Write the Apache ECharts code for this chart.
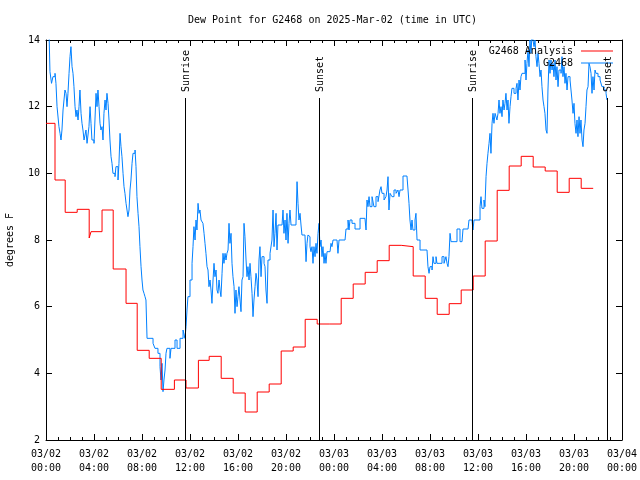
<!DOCTYPE html>
<html>
<head>
<meta charset="utf-8">
<script src="https://cdn.jsdelivr.net/npm/echarts@6/dist/echarts.min.js"></script>
<style>html,body{margin:0;padding:0;background:#fff}#c{width:640px;height:480px}</style>
</head>
<body>
<div id="c"></div>
<script>
// X tick labels (every 4 hours from 03/02 00:00 UTC)
const tickLabels = ['03/02\n00:00','03/02\n04:00','03/02\n08:00','03/02\n12:00','03/02\n16:00','03/02\n20:00',
  '03/03\n00:00','03/03\n04:00','03/03\n08:00','03/03\n12:00','03/03\n16:00','03/03\n20:00','03/04\n00:00'];

// G2468 Analysis (hours since 03/02 00:00 UTC, degrees F)
const analysisHours = [0,0.75,1.6,2.6,3.6,3.75,4.67,5.6,6.67,7.6,8.6,9.6,10.7,11.67,12.7,13.6,14.6,15.6,16.6,17.6,18.6,19.6,20.6,21.6,22.6,23.6,24.6,25.6,26.6,27.6,28.6,29.6,30.6,31.6,32.6,33.6,34.6,35.6,36.6,37.6,38.6,39.6,40.6,41.6,42.6,43.6,44.6,45.6];
const analysisValues = [11.5,9.8,8.83,8.92,8.06,8.25,8.9,7.13,6.1,4.69,4.45,3.52,3.8,3.56,4.39,4.51,3.85,3.41,2.84,3.44,3.68,4.67,4.79,5.62,5.48,5.48,6.25,6.68,7.03,7.38,7.84,7.8,6.92,6.25,5.77,6.09,6.5,6.92,7.97,9.49,10.22,10.51,10.19,10.07,9.43,9.85,9.55,9.55];

// G2468 observations
const obsHours = [0.25,0.33,0.46,0.58,0.75,0.83,0.92,1.08,1.17,1.25,1.33,1.42,1.58,1.67,1.75,1.83,1.92,2.0,2.08,2.17,2.25,2.33,2.42,2.5,2.58,2.67,2.75,2.83,2.92,3.0,3.08,3.17,3.33,3.42,3.58,3.67,3.75,3.83,4.0,4.08,4.17,4.25,4.33,4.42,4.5,4.58,4.67,4.75,4.83,4.92,5.0,5.08,5.17,5.25,5.33,5.42,5.5,5.58,5.75,5.83,6.0,6.08,6.17,6.25,6.33,6.42,6.5,6.58,6.67,6.75,6.83,6.92,7.0,7.08,7.17,7.25,7.42,7.5,7.58,7.67,7.75,7.83,7.92,8.0,8.08,8.17,8.25,8.33,8.42,8.67,8.92,9.08,9.33,9.5,9.58,9.67,9.75,9.83,9.92,10.0,10.08,10.33,10.42,10.75,10.92,11.17,11.42,11.58,11.67,11.75,11.83,12.0,12.17,12.25,12.33,12.42,12.5,12.58,12.67,12.75,12.83,12.92,13.0,13.08,13.17,13.25,13.33,13.42,13.5,13.58,13.67,13.75,13.83,13.92,14.0,14.08,14.17,14.25,14.33,14.42,14.5,14.58,14.67,14.75,14.83,14.92,15.0,15.08,15.17,15.25,15.33,15.42,15.5,15.58,15.67,15.75,15.83,15.92,16.0,16.08,16.17,16.25,16.33,16.42,16.5,16.58,16.67,16.75,16.83,16.92,17.0,17.08,17.17,17.25,17.33,17.42,17.5,17.58,17.67,17.75,17.83,17.92,18.0,18.17,18.25,18.33,18.42,18.5,18.67,18.83,18.92,19.0,19.08,19.17,19.25,19.33,19.67,19.75,19.83,19.92,20.0,20.08,20.17,20.25,20.33,20.42,20.83,20.92,21.0,21.08,21.17,21.25,21.33,21.58,21.67,21.75,21.83,21.92,22.0,22.08,22.17,22.25,22.33,22.42,22.5,22.58,22.67,22.75,22.83,22.92,23.0,23.08,23.17,23.25,23.33,23.42,23.67,23.75,23.83,23.92,24.25,24.33,24.42,24.92,25.0,25.17,25.25,25.33,25.5,25.75,26.17,26.58,26.67,26.75,26.83,26.92,27.0,27.17,27.33,27.5,27.67,27.83,27.92,28.0,28.17,28.33,28.42,28.5,28.58,28.67,28.83,29.0,29.17,29.33,29.42,29.5,29.75,30.08,30.17,30.25,30.33,30.42,30.5,30.58,30.75,30.83,30.92,31.17,31.75,31.83,31.92,32.0,32.17,32.25,32.33,32.5,32.58,32.83,33.0,33.17,33.33,33.42,33.5,33.58,33.67,33.75,34.08,34.25,34.5,34.67,34.75,35.17,35.25,35.5,35.58,35.67,35.92,36.17,36.25,36.33,36.5,36.58,36.67,36.75,36.83,36.92,37.0,37.08,37.17,37.25,37.33,37.42,37.58,37.67,37.75,37.83,37.92,38.0,38.08,38.17,38.25,38.33,38.42,38.5,38.58,38.67,38.75,38.83,39.0,39.17,39.25,39.33,39.42,39.5,39.58,39.67,39.83,39.92,40.0,40.08,40.17,40.25,40.33,40.42,40.5,40.58,40.67,40.75,40.83,40.92,41.0,41.08,41.17,41.25,41.33,41.42,41.5,41.58,41.67,41.75,41.83,41.92,42.0,42.08,42.17,42.25,42.33,42.42,42.5,42.58,42.67,42.75,42.92,43.0,43.08,43.17,43.25,43.33,43.42,43.5,43.67,43.83,43.92,44.0,44.08,44.17,44.25,44.33,44.42,44.5,44.58,44.67,44.75,44.83,44.92,45.0,45.08,45.17,45.25,45.33,45.42,45.5,45.58,45.67,45.75,45.83,46.0,46.17,46.33,46.5,46.67,46.75];
const obsValues = [14.3,13.05,12.7,12.9,13.0,12.7,12.0,11.4,11.2,11.0,11.3,11.9,12.5,12.4,12.0,12.4,13.0,13.5,13.8,13.2,13.0,12.6,12.0,11.7,11.9,11.6,12.0,12.5,11.8,11.5,11.3,11.0,11.3,10.9,11.4,12.0,11.5,11.0,10.9,11.6,12.4,12.0,12.5,12.0,11.5,11.3,11.4,11.0,11.8,12.2,11.9,12.4,12.1,11.6,11.0,10.5,10.3,10.0,9.9,10.2,9.8,10.3,11.2,10.8,10.5,10.0,9.6,9.4,9.1,8.9,8.7,8.9,9.5,9.8,10.3,10.6,10.7,10.2,9.3,8.8,8.4,7.8,7.2,6.8,6.5,6.4,6.3,6.2,5.05,5.05,4.9,4.75,4.6,4.2,3.8,4.3,3.45,3.8,4.1,4.6,4.75,4.45,4.75,5.0,4.75,5.05,5.3,5.05,5.4,5.9,6.3,6.8,7.3,7.8,8.4,8.0,8.6,8.3,9.1,8.8,8.9,8.6,8.6,8.5,8.2,7.9,7.6,7.2,7.1,6.6,6.8,6.5,6.1,6.8,7.3,6.9,7.1,6.5,6.4,6.8,6.5,6.3,7.0,7.6,7.3,7.6,7.4,7.6,7.7,8.5,7.9,8.2,7.3,6.9,6.6,5.8,6.5,6.0,6.3,6.6,6.2,5.85,6.8,6.9,8.5,8.1,7.4,6.9,7.2,6.8,7.3,6.9,6.4,5.7,6.2,6.6,7.0,6.8,6.3,7.4,7.8,6.9,7.5,7.3,7.2,6.5,6.1,7.4,7.6,8.0,8.9,7.8,8.2,8.8,7.7,8.45,8.45,8.9,8.2,8.6,8.0,8.8,7.9,8.5,8.9,8.45,8.45,9.75,9.1,8.6,8.8,8.45,8.15,8.15,7.35,7.9,8.15,8.1,7.8,7.65,7.8,7.3,7.8,7.5,7.9,7.6,8.2,8.5,7.8,8.0,7.5,7.8,7.3,7.6,7.3,7.65,7.7,7.9,7.8,8.0,8.0,7.6,8.0,8.0,8.33,8.6,8.3,8.6,8.5,8.33,8.65,8.65,8.3,9.2,9.0,9.3,9.0,9.3,9.0,9.3,9.15,9.5,9.6,9.4,9.2,9.3,9.5,9.9,8.9,9.4,9.3,9.5,9.4,9.5,9.3,9.5,9.92,9.92,9.5,9.1,8.6,8.3,8.6,8.3,8.6,8.8,8.0,7.7,7.7,7.2,7.0,7.2,7.1,7.5,7.3,7.5,7.3,7.3,7.5,7.3,7.5,7.3,7.2,7.5,8.2,7.95,7.95,8.33,7.95,8.0,8.33,8.33,8.6,8.6,8.3,8.6,8.6,9.0,9.3,8.95,9.2,9.0,9.9,10.3,10.6,10.9,11.2,10.6,11.5,11.8,11.5,11.8,11.6,11.8,12.2,11.8,12.0,11.7,12.2,11.9,12.1,12.4,11.9,12.2,11.5,12.0,12.3,12.55,12.4,12.55,12.7,12.2,12.8,12.5,12.9,13.0,13.0,13.4,12.8,13.3,13.7,13.2,14.0,13.6,14.2,14.0,13.8,14.0,13.5,13.2,13.6,13.3,12.9,13.1,12.6,12.2,12.0,11.8,11.3,11.2,12.5,13.4,13.0,13.4,13.1,13.3,12.9,13.4,12.8,13.2,12.6,13.1,13.0,13.5,12.9,13.2,12.7,13.0,12.5,12.9,12.8,12.2,11.8,12.1,11.5,11.2,11.6,11.1,11.7,11.2,11.6,11.0,10.8,11.3,11.5,12.0,12.5,12.6,13.3,13.2,13.0,12.4,12.9,12.5,13.1,13.0,12.9,12.8,12.6,12.5,12.4,12.2];

// Sun events (hours since 03/02 00:00 UTC)
const sunHours = [11.61, 22.78, 35.52, 46.78];
const sunLabels = ['Sunrise', 'Sunset', 'Sunrise', 'Sunset'];

const FONT = 'DejaVu Sans Mono';
const Y_MIN = 2, Y_MAX = 14;

const zip = (a, b) => a.map((v, i) => [v, b[i]]);

const xAxisBase = {
  type: 'value', min: 0, max: 48, interval: 4,
  axisLine: { show: true, onZero: false, lineStyle: { color: '#000', width: 1 } },
  axisTick: { show: true, inside: true, length: 6, lineStyle: { color: '#000' } },
  minorTick: { show: true, splitNumber: 4, length: 3, lineStyle: { color: '#000' } },
  splitLine: { show: false }, minorSplitLine: { show: false }
};
const yAxisBase = {
  type: 'value', min: Y_MIN, max: Y_MAX, interval: 2,
  axisLine: { show: true, onZero: false, lineStyle: { color: '#000', width: 1 } },
  axisTick: { show: true, inside: true, length: 6, lineStyle: { color: '#000' } },
  splitLine: { show: false }
};

const chart = echarts.init(document.getElementById('c'), null, { renderer: 'canvas' });
chart.setOption({
  animation: false,
  backgroundColor: '#fff',
  textStyle: { fontFamily: FONT },
  title: {
    text: 'Dew Point for G2468 on 2025-Mar-02 (time in UTC)',
    left: 183, top: 10,
    textStyle: { fontFamily: FONT, fontSize: 10, fontWeight: 'normal', color: '#000' }
  },
  grid: { left: 46, right: 18, top: 40, bottom: 40, containLabel: false, outerBoundsMode: 'none' },
  legend: {
    orient: 'vertical', align: 'right', right: 27, top: 46, itemGap: 2, padding: 0,
    itemWidth: 32, itemHeight: 1, icon: 'rect',
    data: ['G2468 Analysis', 'G2468'],
    textStyle: { fontFamily: FONT, fontSize: 10, color: '#000', padding: [0, 3, 0, 0] }
  },
  xAxis: [
    Object.assign({}, xAxisBase, {
      position: 'bottom',
      axisLabel: { show: true, margin: 7, color: '#000', fontFamily: FONT, fontSize: 10, lineHeight: 14,
        formatter: v => tickLabels[Math.round(v / 4)] }
    }),
    Object.assign({}, xAxisBase, { position: 'top', axisLabel: { show: false } })
  ],
  yAxis: [
    Object.assign({}, yAxisBase, {
      position: 'left',
      name: 'degrees F', nameLocation: 'middle', nameGap: 31, nameRotate: 90,
      nameTextStyle: { fontFamily: FONT, fontSize: 10, color: '#000' },
      axisLabel: { show: true, margin: 6, color: '#000', fontFamily: FONT, fontSize: 10 }
    }),
    Object.assign({}, yAxisBase, { position: 'right', axisLabel: { show: false } })
  ],
  series: [
    {
      name: 'G2468 Analysis', type: 'line', step: 'end', showSymbol: false, symbol: 'none',
      xAxisIndex: 0, yAxisIndex: 0, clip: true,
      data: zip(analysisHours, analysisValues),
      itemStyle: { color: '#ff0000' },
      lineStyle: { color: '#ff0000', width: 1 }, z: 3
    },
    {
      name: 'G2468', type: 'line', step: 'end', showSymbol: false, symbol: 'none',
      xAxisIndex: 0, yAxisIndex: 0, clip: true,
      data: zip(obsHours, obsValues),
      itemStyle: { color: '#0080ff' },
      lineStyle: { color: '#0080ff', width: 1 }, z: 2
    },
    {
      name: 'sun', type: 'custom', xAxisIndex: 0, yAxisIndex: 0, silent: true, z: 4,
      data: sunHours.map((h, i) => [h, i]),
      renderItem: function (params, api) {
        const h = api.value(0);
        const i = api.value(1);
        const bottom = api.coord([h, Y_MIN]);
        const top = api.coord([h, Y_MAX]);
        const x = Math.round(bottom[0]) + 0.5;
        return {
          type: 'group',
          children: [
            { type: 'line', shape: { x1: x, y1: bottom[1], x2: x, y2: top[1] + 58 },
              style: { stroke: '#000', lineWidth: 1 } },
            { type: 'text', x: x + 1, y: top[1] + 52, rotation: Math.PI / 2,
              style: { text: sunLabels[i], font: '10px ' + FONT, fill: '#000', align: 'left', verticalAlign: 'middle' } }
          ]
        };
      }
    }
  ]
});
</script>
</body>
</html>
